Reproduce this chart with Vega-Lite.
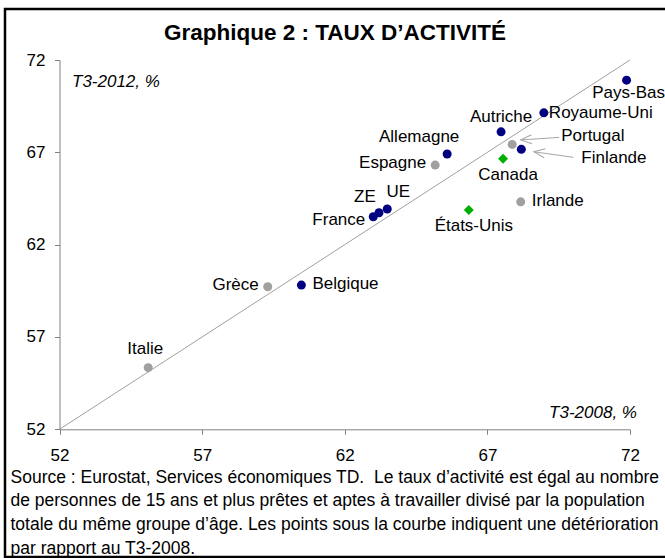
{
  "$schema": "https://vega.github.io/schema/vega-lite/v6.json",
  "width": 660,
  "height": 548,
  "autosize": {"type": "none"},
  "padding": {"left": 5, "top": 9, "right": 0, "bottom": 1},
  "background": "white",
  "config": {
    "font": "Liberation Sans",
    "view": {"stroke": "black", "strokeWidth": 2.5, "strokeDash": [660, 548, 1208]},
    "text": {"font": "Liberation Sans", "fontSize": 17, "color": "black"}
  },
  "title": {
    "text": "Graphique 2 : TAUX D’ACTIVITÉ",
    "font": "Liberation Sans",
    "fontSize": 22.5,
    "fontWeight": "bold",
    "color": "black",
    "anchor": "middle",
    "frame": "group",
    "offset": -35
  },
  "datasets": {
    "pays": [
      {"pays": "Pays-Bas", "groupe": "Europe", "t3_2008": 71.88, "t3_2012": 70.91},
      {"pays": "Royaume-Uni", "groupe": "Europe", "t3_2008": 68.98, "t3_2012": 69.14},
      {"pays": "Autriche", "groupe": "Europe", "t3_2008": 67.48, "t3_2012": 68.11},
      {"pays": "Portugal", "groupe": "Périphérie", "t3_2008": 67.87, "t3_2012": 67.43},
      {"pays": "Finlande", "groupe": "Europe", "t3_2008": 68.19, "t3_2012": 67.16},
      {"pays": "Canada", "groupe": "Amérique du Nord", "t3_2008": 67.55, "t3_2012": 66.65},
      {"pays": "Allemagne", "groupe": "Europe", "t3_2008": 65.59, "t3_2012": 66.91},
      {"pays": "Espagne", "groupe": "Périphérie", "t3_2008": 65.17, "t3_2012": 66.31},
      {"pays": "Irlande", "groupe": "Périphérie", "t3_2008": 68.17, "t3_2012": 64.32},
      {"pays": "États-Unis", "groupe": "Amérique du Nord", "t3_2008": 66.35, "t3_2012": 63.87},
      {"pays": "UE", "groupe": "Europe", "t3_2008": 63.49, "t3_2012": 63.93},
      {"pays": "ZE", "groupe": "Europe", "t3_2008": 63.2, "t3_2012": 63.73},
      {"pays": "France", "groupe": "Europe", "t3_2008": 63.0, "t3_2012": 63.51},
      {"pays": "Belgique", "groupe": "Europe", "t3_2008": 60.48, "t3_2012": 59.81},
      {"pays": "Grèce", "groupe": "Périphérie", "t3_2008": 59.3, "t3_2012": 59.72},
      {"pays": "Italie", "groupe": "Périphérie", "t3_2008": 55.11, "t3_2012": 55.34}
    ],
    "fleches": [
      {"pays": "Portugal", "x_debut": 69.52, "y_debut": 67.81, "x_fin": 68.17, "y_fin": 67.67},
      {"pays": "Finlande", "x_debut": 70.01, "y_debut": 66.73, "x_fin": 68.63, "y_fin": 67.03}
    ]
  },
  "layer": [
    {
      "data": {"values": [{}]},
      "mark": {"type": "rule", "color": "#A0A0A0", "strokeWidth": 1},
      "encoding": {
        "x": {"datum": 52, "type": "quantitative"},
        "y": {"datum": 52, "type": "quantitative"},
        "x2": {"datum": 72},
        "y2": {"datum": 72}
      }
    },
    {
      "data": {"name": "pays"},
      "transform": [{"filter": {"field": "groupe", "oneOf": ["Europe", "Périphérie"]}}],
      "mark": {"type": "point", "shape": "circle", "filled": true, "size": 81, "opacity": 1},
      "encoding": {
        "x": {
          "field": "t3_2008",
          "type": "quantitative",
          "scale": {"domain": [52, 72], "range": [54.5, 625], "nice": false, "zero": false},
          "axis": {
            "values": [52, 57, 62, 67, 72],
            "offset": -127.7,
            "grid": false,
            "domainColor": "#808080",
            "tickColor": "#808080",
            "tickSize": 5,
            "labelFont": "Liberation Sans",
            "labelFontSize": 17,
            "labelColor": "black",
            "labelPadding": 13.5,
            "labelFlush": false,
            "labelOverlap": false,
            "title": [
              "Source : Eurostat, Services économiques TD.\u00a0 Le taux d’activité est égal au nombre",
              "de personnes de 15 ans et plus prêtes et aptes à travailler divisé par la population",
              "totale du même groupe d’âge. Les points sous la courbe indiquent une détérioration",
              "par rapport au T3-2008."
            ],
            "titleX": 5,
            "titleY": 53,
            "titleAlign": "left",
            "titleBaseline": "alphabetic",
            "titleFont": "Liberation Sans",
            "titleFontSize": 17.5,
            "titleFontWeight": "normal",
            "titleColor": "black",
            "titleLineHeight": 23.6
          }
        },
        "y": {
          "field": "t3_2012",
          "type": "quantitative",
          "scale": {"domain": [52, 72], "range": [420.3, 51], "nice": false, "zero": false},
          "axis": {
            "values": [52, 57, 62, 67, 72],
            "offset": -54.5,
            "grid": false,
            "domainColor": "#808080",
            "tickColor": "#808080",
            "tickSize": 5,
            "labelFont": "Liberation Sans",
            "labelFontSize": 17,
            "labelColor": "black",
            "labelPadding": 9.5,
            "labelFlush": false,
            "labelOverlap": false,
            "title": "T3-2012, %",
            "titleAngle": 0,
            "titleX": 12,
            "titleY": 72,
            "titleAlign": "left",
            "titleBaseline": "middle",
            "titleFont": "Liberation Sans",
            "titleFontSize": 17,
            "titleFontStyle": "italic",
            "titleFontWeight": "normal",
            "titleColor": "black"
          }
        },
        "color": {
          "field": "groupe",
          "type": "nominal",
          "scale": {"domain": ["Europe", "Périphérie", "Amérique du Nord"], "range": ["#000080", "#A0A0A0", "#00B000"]},
          "legend": null
        }
      }
    },
    {
      "data": {"name": "pays"},
      "transform": [{"filter": {"field": "groupe", "equal": "Amérique du Nord"}}],
      "mark": {"type": "point", "shape": "diamond", "filled": true, "size": 100, "opacity": 1},
      "encoding": {
        "x": {"field": "t3_2008", "type": "quantitative"},
        "y": {"field": "t3_2012", "type": "quantitative"},
        "color": {"field": "groupe", "type": "nominal", "legend": null}
      }
    },
    {
      "data": {"name": "fleches"},
      "mark": {"type": "rule", "color": "#A6A6A6", "strokeWidth": 1},
      "encoding": {
        "x": {"field": "x_debut", "type": "quantitative"},
        "y": {"field": "y_debut", "type": "quantitative"},
        "x2": {"field": "x_fin"},
        "y2": {"field": "y_fin"}
      }
    },
    {
      "data": {"name": "fleches"},
      "transform": [{"filter": {"field": "pays", "equal": "Portugal"}}],
      "mark": {"type": "point", "shape": "M1,-0.41L0,0L1,0.41", "filled": false, "size": 484, "stroke": "#A6A6A6", "strokeWidth": 1, "angle": -4, "opacity": 1},
      "encoding": {
        "x": {"field": "x_fin", "type": "quantitative"},
        "y": {"field": "y_fin", "type": "quantitative"}
      }
    },
    {
      "data": {"name": "fleches"},
      "transform": [{"filter": {"field": "pays", "equal": "Finlande"}}],
      "mark": {"type": "point", "shape": "M1,-0.41L0,0L1,0.41", "filled": false, "size": 484, "stroke": "#A6A6A6", "strokeWidth": 1, "angle": 8, "opacity": 1},
      "encoding": {
        "x": {"field": "x_fin", "type": "quantitative"},
        "y": {"field": "y_fin", "type": "quantitative"}
      }
    },
    {
      "data": {"values": [{}]},
      "mark": {"type": "text", "align": "right", "baseline": "middle", "fontStyle": "italic", "fontSize": 17, "dx": 7, "dy": -16, "text": "T3-2008, %"},
      "encoding": {
        "x": {"datum": 72, "type": "quantitative"},
        "y": {"datum": 52, "type": "quantitative"}
      }
    },
    {
      "data": {"name": "pays"},
      "transform": [{"filter": {"field": "pays", "equal": "Royaume-Uni"}}],
      "mark": {"type": "text", "align": "left", "baseline": "middle", "dx": 5, "dy": 0},
      "encoding": {"x": {"field": "t3_2008", "type": "quantitative"}, "y": {"field": "t3_2012", "type": "quantitative"}, "text": {"field": "pays"}}
    },
    {
      "data": {"name": "pays"},
      "transform": [{"filter": {"field": "pays", "oneOf": ["Belgique", "Irlande"]}}],
      "mark": {"type": "text", "align": "left", "baseline": "middle", "dx": 11, "dy": -1},
      "encoding": {"x": {"field": "t3_2008", "type": "quantitative"}, "y": {"field": "t3_2012", "type": "quantitative"}, "text": {"field": "pays"}}
    },
    {
      "data": {"name": "pays"},
      "transform": [{"filter": {"field": "pays", "oneOf": ["Grèce", "Espagne"]}}],
      "mark": {"type": "text", "align": "right", "baseline": "middle", "dx": -9, "dy": -2},
      "encoding": {"x": {"field": "t3_2008", "type": "quantitative"}, "y": {"field": "t3_2012", "type": "quantitative"}, "text": {"field": "pays"}}
    },
    {
      "data": {"name": "pays"},
      "transform": [{"filter": {"field": "pays", "equal": "France"}}],
      "mark": {"type": "text", "align": "right", "baseline": "middle", "dx": -8, "dy": 3},
      "encoding": {"x": {"field": "t3_2008", "type": "quantitative"}, "y": {"field": "t3_2012", "type": "quantitative"}, "text": {"field": "pays"}}
    },
    {
      "data": {"name": "pays"},
      "transform": [{"filter": {"field": "pays", "equal": "Autriche"}}],
      "mark": {"type": "text", "align": "center", "baseline": "middle", "dx": 0, "dy": -15},
      "encoding": {"x": {"field": "t3_2008", "type": "quantitative"}, "y": {"field": "t3_2012", "type": "quantitative"}, "text": {"field": "pays"}}
    },
    {
      "data": {"name": "pays"},
      "transform": [{"filter": {"field": "pays", "equal": "Italie"}}],
      "mark": {"type": "text", "align": "center", "baseline": "middle", "dx": -3, "dy": -19},
      "encoding": {"x": {"field": "t3_2008", "type": "quantitative"}, "y": {"field": "t3_2012", "type": "quantitative"}, "text": {"field": "pays"}}
    },
    {
      "data": {"name": "pays"},
      "transform": [{"filter": {"field": "pays", "equal": "Allemagne"}}],
      "mark": {"type": "text", "align": "center", "baseline": "middle", "dx": -28, "dy": -17},
      "encoding": {"x": {"field": "t3_2008", "type": "quantitative"}, "y": {"field": "t3_2012", "type": "quantitative"}, "text": {"field": "pays"}}
    },
    {
      "data": {"name": "pays"},
      "transform": [{"filter": {"field": "pays", "equal": "ZE"}}],
      "mark": {"type": "text", "align": "center", "baseline": "middle", "dx": -14, "dy": -16},
      "encoding": {"x": {"field": "t3_2008", "type": "quantitative"}, "y": {"field": "t3_2012", "type": "quantitative"}, "text": {"field": "pays"}}
    },
    {
      "data": {"name": "pays"},
      "transform": [{"filter": {"field": "pays", "equal": "UE"}}],
      "mark": {"type": "text", "align": "center", "baseline": "middle", "dx": 11, "dy": -17},
      "encoding": {"x": {"field": "t3_2008", "type": "quantitative"}, "y": {"field": "t3_2012", "type": "quantitative"}, "text": {"field": "pays"}}
    },
    {
      "data": {"name": "pays"},
      "transform": [{"filter": {"field": "pays", "equal": "Pays-Bas"}}],
      "mark": {"type": "text", "align": "center", "baseline": "middle", "dx": 2, "dy": 13},
      "encoding": {"x": {"field": "t3_2008", "type": "quantitative"}, "y": {"field": "t3_2012", "type": "quantitative"}, "text": {"field": "pays"}}
    },
    {
      "data": {"name": "pays"},
      "transform": [{"filter": {"field": "pays", "oneOf": ["Canada", "États-Unis"]}}],
      "mark": {"type": "text", "align": "center", "baseline": "middle", "dx": 5, "dy": 16},
      "encoding": {"x": {"field": "t3_2008", "type": "quantitative"}, "y": {"field": "t3_2012", "type": "quantitative"}, "text": {"field": "pays"}}
    },
    {
      "data": {"name": "pays"},
      "transform": [{"filter": {"field": "pays", "equal": "Portugal"}}],
      "mark": {"type": "text", "align": "left", "baseline": "middle", "dx": 49, "dy": -8},
      "encoding": {"x": {"field": "t3_2008", "type": "quantitative"}, "y": {"field": "t3_2012", "type": "quantitative"}, "text": {"field": "pays"}}
    },
    {
      "data": {"name": "pays"},
      "transform": [{"filter": {"field": "pays", "equal": "Finlande"}}],
      "mark": {"type": "text", "align": "left", "baseline": "middle", "dx": 60, "dy": 9},
      "encoding": {"x": {"field": "t3_2008", "type": "quantitative"}, "y": {"field": "t3_2012", "type": "quantitative"}, "text": {"field": "pays"}}
    }
  ]
}
